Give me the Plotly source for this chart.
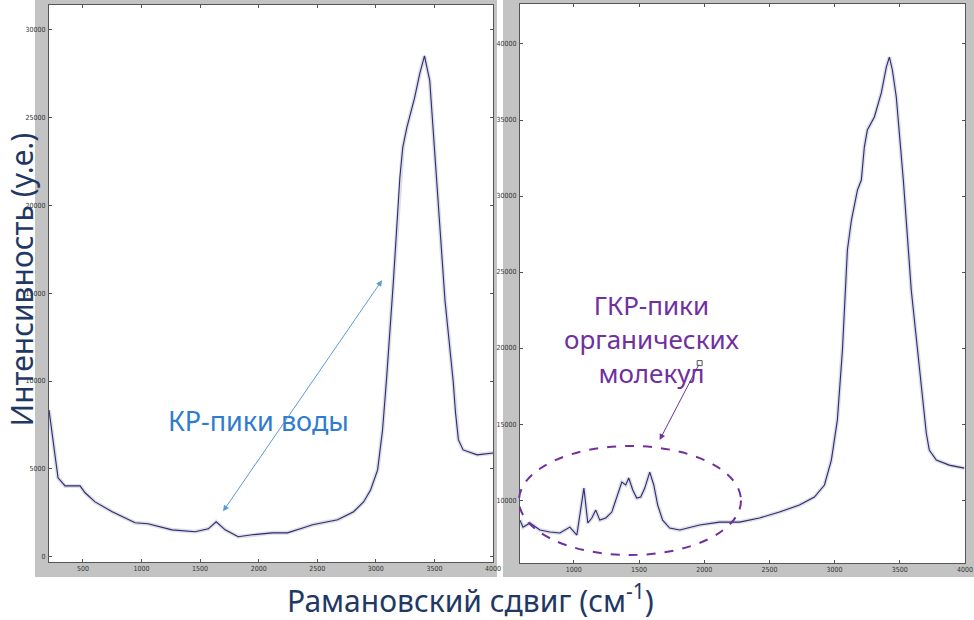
import plotly.graph_objects as go

# ---- data ----
wn_left = [210, 287, 347, 475, 518, 603, 750, 945, 1055, 1260, 1457, 1570, 1637, 1714, 1825, 1945,
           2115, 2245, 2382, 2460, 2674, 2810, 2895, 2955, 3015, 3057, 3090, 3150, 3205, 3230, 3265,
           3330, 3375, 3415, 3460, 3490, 3520, 3590, 3660, 3680, 3705, 3745, 3865, 4000]
int_left = [8350, 4490, 4030, 4030, 3640, 3120, 2560, 1930, 1880, 1530, 1420, 1590, 1990, 1530, 1140, 1250,
            1360, 1360, 1650, 1820, 2100, 2560, 3120, 3800, 4940, 7200, 10000, 15700, 21600, 23300, 24430,
            26100, 27500, 28500, 27100, 24300, 21600, 14600, 10000, 8200, 6650, 6080, 5800, 5900]

wn_right = [587, 610, 663, 740, 816, 893, 969, 1023, 1077, 1107, 1138, 1168, 1199, 1245, 1291, 1337,
            1368, 1398, 1421, 1452, 1482, 1513, 1544, 1582, 1613, 1643, 1681, 1735, 1812, 1965, 2118,
            2271, 2424, 2577, 2730, 2845, 2922, 2975, 3021, 3060, 3098, 3129, 3175, 3205, 3228, 3251,
            3305, 3358, 3397, 3420, 3443, 3473, 3511, 3527, 3588, 3634, 3672, 3703, 3726, 3780, 3879, 3994]
int_right = [8680, 8220, 8490, 8030, 7900, 7830, 8220, 7700, 10790, 8490, 8820, 9340, 8680, 8820, 9210, 10330,
             11180, 10990, 11450, 10660, 10130, 10200, 10790, 11840, 10990, 9670, 8680, 8160, 8030, 8360, 8550,
             8550, 8820, 9210, 9670, 10200, 10990, 12630, 15260, 19870, 26450, 28420, 30390, 31050, 33220, 34340,
             35200, 36780, 38490, 39140, 38290, 36510, 32830, 31050, 23800, 19870, 16580, 14410, 13290, 12630, 12300, 12100]

ticks_x_left = [500, 1000, 1500, 2000, 2500, 3000, 3500, 4000]
ticks_y_left = [0, 5000, 10000, 15000, 20000, 25000, 30000]
ticks_x_right = [1000, 1500, 2000, 2500, 3000, 3500, 4000]
ticks_y_right = [10000, 15000, 20000, 25000, 30000, 35000, 40000]

title_y = "Интенсивность (у.е.)"
title_x = "Рамановский сдвиг (см<sup>-1</sup>)"
label_water = "КР-пики воды"
label_sers = "ГКР-пики<br>органических<br>молекул"

W, H = 974, 620
def px(x): return x / W
def py(y): return (H - y) / H

LINE = "#2b2b78"
HALO = "rgba(190,190,200,0.5)"

fig = go.Figure()
for xs, ys, xa, ya in [(wn_left, int_left, "x", "y"), (wn_right, int_right, "x2", "y2")]:
    fig.add_trace(go.Scatter(x=xs, y=ys, xaxis=xa, yaxis=ya, mode="lines",
                             line=dict(color=HALO, width=4), hoverinfo="skip", showlegend=False))
    fig.add_trace(go.Scatter(x=xs, y=ys, xaxis=xa, yaxis=ya, mode="lines",
                             line=dict(color=LINE, width=1.1), showlegend=False))

tickfont = dict(family="DejaVu Sans Condensed, Liberation Sans Narrow, Liberation Sans, sans-serif",
                size=7, color="#333333")
axcommon = dict(showgrid=False, zeroline=False, showline=True, linecolor="#555555", linewidth=1,
                mirror="ticks", ticks="inside", ticklen=3, tickcolor="#555555", tickfont=tickfont,
                tickformat="d", fixedrange=True, automargin=False, ticklabeloverflow="allow")

gray = "#c3c3c3"
shapes = []
for (ox0, ox1, oy0, oy1, ix0, ix1, iy0, iy1) in [(35, 497, 0, 577, 49, 493, 5, 562),
                                                  (503, 974, 0, 577, 520, 965, 4, 563)]:
    for (a, b, c, d) in [(ox0, ox1, oy0, iy0), (ox0, ox1, iy1, oy1), (ox0, ix0, iy0, iy1), (ix1, ox1, iy0, iy1)]:
        shapes.append(dict(type="rect", xref="paper", yref="paper", x0=px(a), x1=px(b), y0=py(d), y1=py(c),
                           fillcolor=gray, line=dict(width=0), layer="below"))
shapes.append(dict(type="circle", xref="paper", yref="paper", x0=px(519), x1=px(741), y0=py(555), y1=py(446),
                   line=dict(color="#7030A0", width=2, dash="dash"), layer="above"))

fig.update_layout(
    width=W, height=H, autosize=False, margin=dict(l=0, r=0, t=0, b=0, pad=0),
    paper_bgcolor="white", plot_bgcolor="white",
    xaxis=dict(domain=[px(49), px(493)], range=[210, 4000], tickvals=ticks_x_left, anchor="y", **axcommon),
    yaxis=dict(domain=[py(562), py(5)], range=[-300, 31400], tickvals=ticks_y_left, anchor="x",
               ticklabelstandoff=1, **axcommon),
    xaxis2=dict(domain=[px(520), px(965)], range=[587, 4000], tickvals=ticks_x_right, anchor="y2", **axcommon),
    yaxis2=dict(domain=[py(563), py(4)], range=[5860, 42630], tickvals=ticks_y_right, anchor="x2",
                ticklabelstandoff=1, **axcommon),
    shapes=shapes,
    showlegend=False,
)

bigfont = "Noto Sans, Open Sans, sans-serif"
ann = []
ann.append(dict(text=title_y, xref="paper", yref="paper", x=px(20.5), y=py(280), showarrow=False, textangle=-90,
                font=dict(family=bigfont, size=30, color="#1F3864"), xanchor="center", yanchor="middle",
                borderpad=0))
ann.append(dict(text=title_x, xref="paper", yref="paper", x=px(470), y=0, showarrow=False,
                font=dict(family=bigfont, size=30, color="#1F3864"), xanchor="center", yanchor="bottom",
                borderpad=0, yshift=-2))
ann.append(dict(text=label_water, xref="paper", yref="paper", x=px(258), y=py(420), showarrow=False,
                font=dict(family=bigfont, size=27, color="#2E7BCF"), xanchor="center", yanchor="middle"))
ann.append(dict(text=label_sers, xref="paper", yref="paper", x=px(652), y=py(339), showarrow=False,
                font=dict(family=bigfont, size=26, color="#7030A0"), xanchor="center", yanchor="middle",
                align="center"))
ann.append(dict(text="", x=3053, y=15740, xref="x", yref="y", ax=1687, ay=2500, axref="x", ayref="y",
                showarrow=True, arrowhead=2, startarrowhead=2, arrowside="end+start", arrowsize=1.2,
                startarrowsize=1.2, arrowwidth=1, arrowcolor="#5B9BD5"))
ann.append(dict(text="", x=1658, y=13950, xref="x2", yref="y2", ax=1965, ay=19010, axref="x2", ayref="y2",
                showarrow=True, arrowhead=2, arrowsize=1.2, arrowwidth=1, arrowcolor="#7030A0"))
fig.add_trace(go.Scatter(x=[1965], y=[19010], xaxis="x2", yaxis="y2", mode="markers",
                         marker=dict(symbol="square-open", size=5, color="#555555", line=dict(width=1)),
                         hoverinfo="skip", showlegend=False))
fig.update_layout(annotations=ann)

fig.write_html("out.html", config={"responsive": False, "displayModeBar": False})
